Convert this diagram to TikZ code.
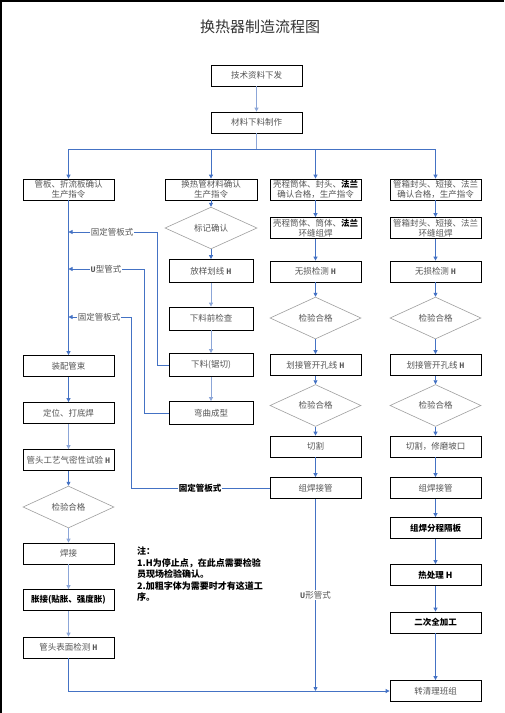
\documentclass[tikz,border=0pt]{standalone}
\usepackage{fontspec}
\setmainfont{Noto Sans CJK SC}
\newfontfamily\hmono{Liberation Mono}
\usetikzlibrary{shapes.geometric,arrows.meta,positioning,calc}
\definecolor{flowblue}{RGB}{68,114,196}
\definecolor{paleblue}{RGB}{140,166,216}
\definecolor{txtgray}{RGB}{85,85,85}
\newcommand{\hmark}{{\hmono\bfseries H}}
\newcommand{\boxfont}{\fontsize{8.5}{10}\selectfont}
\tikzset{
    procbox/.style={
        draw=black,
        line width=0.8pt,
        fill=white,
        minimum width=91pt,
        minimum height=21pt,
        inner sep=0.5pt,
        align=center,
        font=\boxfont,
        text=txtgray
    },
    narrowbox/.style={procbox, minimum width=84pt, minimum height=23pt},
    boldbox/.style={procbox, text=black, font=\boxfont\bfseries},
    checkdiamond/.style={
        diamond,
        draw=gray!75,
        line width=0.6pt,
        fill=white,
        minimum width=91pt,
        minimum height=36pt,
        inner sep=0pt,
        font=\boxfont,
        text=txtgray
    },
    flow/.style={draw=flowblue, line width=0.8pt, -{Triangle[width=4pt,length=4pt]}},
    flowpale/.style={flow, draw=paleblue},
    looplabel/.style={fill=white, inner sep=1pt, font=\boxfont, text=txtgray},
}

\begin{document}
\begin{tikzpicture}[x=1pt, y=-1pt]
    \useasboundingbox (0,0) rectangle (504,713);
    \draw[line width=1.5pt] (0.75,713) -- (0.75,0.75) -- (504,0.75);

    % Title and head of the flow
    \node[font=\fontsize{15}{15}\selectfont, text=black!80] (title) at (260,27) {换热器制造流程图};
    \node[procbox] (tech) at (256.5,75.5) {技术资料下发};
    \node[procbox] (mat) at (256.5,122.5) {材料下料制作};
    \coordinate (bus) at (256.5,149);

    % Column A: tube sheet / tube bundle
    \node[procbox] (a1) at (68.5,189.5) {管板、折流板确认\\生产指令};
    \node[procbox] (a5) at (68.5,366) {装配管束};
    \node[procbox] (a6) at (68.5,413) {定位、打底焊};
    \node[procbox] (a7) at (68.5,460) {管头工艺气密性试验 \hmark};
    \node[checkdiamond] (ad) at (68.5,507) {检验合格};
    \node[procbox] (a9) at (68.5,553.5) {焊接};
    \node[boldbox] (a10) at (68.5,600) {胀接(贴胀、强度胀)};
    \node[procbox] (a11) at (68.5,647.5) {管头表面检测 \hmark};

    % Column B: heat exchange tubes
    \node[procbox, minimum width=92pt] (b1) at (211,189.5) {换热管材料确认\\生产指令};
    \node[checkdiamond, minimum width=92pt] (bd) at (211,228) {标记确认};
    \node[narrowbox] (b3) at (211,271) {放样划线 \hmark};
    \node[narrowbox] (b4) at (211,318.5) {下料前检查};
    \node[narrowbox] (b5) at (211,365) {下料(锯切)};
    \node[narrowbox] (b6) at (211,413) {弯曲成型};

    % Column C: shell side
    \node[procbox] (c1) at (315.5,189.5) {壳程筒体、封头、{\color{black}\bfseries 法兰}\\确认合格，生产指令};
    \node[procbox] (c2) at (315.5,228) {壳程筒体、筒体、{\color{black}\bfseries 法兰}\\环缝组焊};
    \node[procbox] (c3) at (315.5,271.5) {无损检测 \hmark};
    \node[checkdiamond] (c4) at (315.5,318) {检验合格};
    \node[procbox] (c5) at (315.5,365) {划接管开孔线 \hmark};
    \node[checkdiamond] (c6) at (315.5,405.5) {检验合格};
    \node[procbox] (c7) at (315.5,446.5) {切割};
    \node[procbox] (c8) at (315.5,488) {组焊接管};

    % Column D: channel side
    \node[procbox] (d1) at (435.5,189.5) {管箱封头、短接、法兰\\确认合格，生产指令};
    \node[procbox] (d2) at (435.5,228) {管箱封头、短接、法兰\\环缝组焊};
    \node[procbox] (d3) at (435.5,271.5) {无损检测 \hmark};
    \node[checkdiamond] (d4) at (435.5,318) {检验合格};
    \node[procbox] (d5) at (435.5,365) {划接管开孔线 \hmark};
    \node[checkdiamond] (d6) at (435.5,405.5) {检验合格};
    \node[procbox] (d7) at (435.5,446.5) {切割，修磨坡口};
    \node[procbox] (d8) at (435.5,488) {组焊接管};
    \node[boldbox] (d9) at (435.5,528) {组焊分程隔板};
    \node[boldbox] (d10) at (435.5,575) {热处理 H};
    \node[boldbox] (d11) at (435.5,622.5) {二次全加工};
    \node[procbox] (d12) at (435.5,691) {转清理班组};

    % Note
    \node[anchor=north west, align=left, inner sep=0pt, font=\fontsize{9}{11.5}\selectfont\bfseries] (note) at (137,547)
        {注：\\1.H为停止点，在此点需要检验\\员现场检验确认。\\2.加粗字体为需要时才有这道工\\序。};

    % Head and distribution bus
    \draw[flowpale] (tech) -- (mat);
    \draw[draw=paleblue, line width=0.8pt] (mat) -- (bus);
    \draw[flow] (bus) -| (a1.north);
    \draw[flow] (bus) -| (b1.north);
    \draw[flow] (bus) -| (c1.north);
    \draw[flow] (bus) -| (d1.north);

    % Column flows
    \draw[flow] (a1) -- (a5);
    \draw[flow] (a5) -- (a6);
    \draw[flowpale] (a6) -- (a7);
    \draw[flow] (a7) -- (ad);
    \draw[flowpale] (ad) -- (a9);
    \draw[flowpale] (a9) -- (a10);
    \draw[flowpale] (a10) -- (a11);
    \draw[flow] (a11.south) |- (d12.west);

    \draw[flow] (b1) -- (bd);
    \draw[flow] (bd) -- (b3);
    \draw[flowpale] (b3) -- (b4);
    \draw[flowpale] (b4) -- (b5);
    \draw[flowpale] (b5) -- (b6);

    \foreach \u/\v in {c1/c2, c2/c3, c3/c4, c4/c5, c5/c6, c6/c7, c7/c8,
                       d1/d2, d2/d3, d3/d4, d4/d5, d5/d6, d6/d7, d7/d8, d8/d9, d9/d10, d10/d11, d11/d12}
        \draw[flow] (\u) -- (\v);
    \draw[flow] (c8.south) -- (c8.south |- d12.west);
    \node[looplabel] (ulabel) at (315.5,595) {{\hmono\bfseries U}形管式};

    % Return loops onto column A
    \coordinate (fixa) at (68.5,232);
    \coordinate (ua) at (68.5,269);
    \coordinate (fixb) at (68.5,317);
    \draw[flow] (b5.west) -| (157,232) -- (fixa);
    \draw[flow] (b6.west) -| (144,269) -- (ua);
    \draw[flow] (c8.west) -| (131,317) -- (fixb);
    \node[looplabel] (fixalabel) at (112,232) {固定管板式};
    \node[looplabel] (ualabel) at (106,269) {{\hmono\bfseries U}型管式};
    \node[looplabel] (fixblabel) at (99,317) {固定管板式};
    \node[looplabel, text=black, font=\boxfont\bfseries] (fixclabel) at (200,488) {固定管板式};
\end{tikzpicture}
\end{document}
